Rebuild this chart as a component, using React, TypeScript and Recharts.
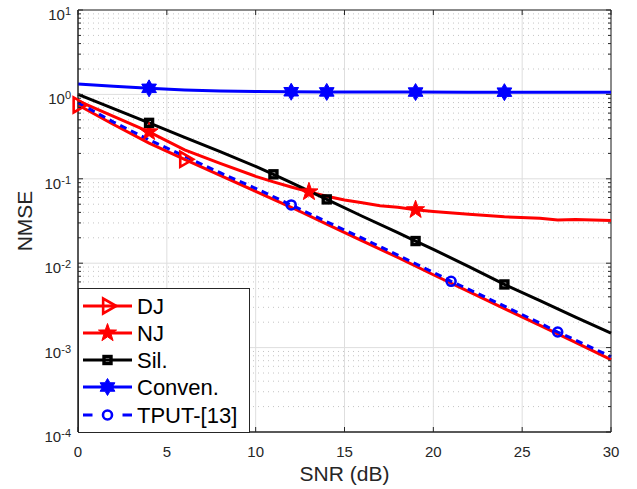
import React from "react";
import { LineChart, Line, XAxis, YAxis, CartesianGrid, ReferenceArea, Legend } from "recharts";

// plot box (MATLAB-style axes)
const CHART_W = 637;
const CHART_H = 489;
const PLOT_LEFT = 78;
const PLOT_RIGHT = 611;
const PLOT_TOP = 10;
const PLOT_BOTTOM = 432;

const FONT = "'Liberation Sans', Arial, Helvetica, sans-serif";
const AXIS = "#262626";
const RED = "#ff0000";
const BLUE = "#0000ff";
const BLACK = "#000000";

const snrTicks = [0, 5, 10, 15, 20, 25, 30];
const decadeTicks = [1e-4, 1e-3, 1e-2, 1e-1, 1, 10];
const minorTicks = decadeTicks.slice(0, -1).flatMap((d) => [2, 3, 4, 5, 6, 7, 8, 9].map((m) => m * d));

// DJ
const djSnr = [0, 2, 4, 6, 8, 10, 12, 14, 16, 18, 20, 22, 24, 26, 28, 30];
const djNmse = [0.75, 0.44, 0.265, 0.17, 0.11, 0.071, 0.046, 0.029, 0.0184, 0.0117, 0.0073, 0.0046, 0.0029, 0.00183, 0.00115, 0.00072];
const djMarks = [0, 6];

// NJ
const njSnr = [0, 2, 4, 6, 8, 10, 11, 12, 13, 14, 15, 16, 17, 18, 19, 20, 22, 24, 26, 27, 28, 30];
const njNmse = [0.84, 0.55, 0.36, 0.22, 0.152, 0.107, 0.092, 0.08, 0.07, 0.062, 0.056, 0.052, 0.048, 0.046, 0.043, 0.041, 0.038, 0.0355, 0.034, 0.0325, 0.033, 0.032];
const njMarks = [4, 13, 19];

// Sil.
const silSnr = [0, 2, 4, 6, 8, 10, 11, 12, 14, 16, 18, 19, 20, 22, 24, 26, 28, 30];
const silNmse = [1.0, 0.68, 0.46, 0.31, 0.21, 0.14, 0.113, 0.09, 0.057, 0.036, 0.023, 0.0183, 0.0146, 0.0091, 0.0056, 0.0036, 0.0023, 0.00148];
const silMarks = [4, 11, 14, 19, 24];

// Conven.
const convSnr = [0, 2, 4, 6, 8, 10, 12, 14, 16, 19, 22, 24, 27, 30];
const convNmse = [1.33, 1.25, 1.18, 1.13, 1.1, 1.085, 1.075, 1.07, 1.068, 1.066, 1.064, 1.063, 1.061, 1.06];
const convMarks = [4, 12, 14, 19, 24];

// TPUT-[13]
const tputSnr = [0, 2, 4, 6, 8, 10, 12, 14, 16, 18, 20, 21, 22, 24, 26, 27, 28, 30];
const tputNmse = [0.8, 0.47, 0.29, 0.185, 0.118, 0.077, 0.049, 0.031, 0.0198, 0.0125, 0.0078, 0.0061, 0.0049, 0.0031, 0.00195, 0.00153, 0.00123, 0.00078];
const tputMarks = [12, 21, 27];

const toRows = (snr: number[], nmse: number[]) => snr.map((s, i) => ({ snr: s, nmse: nmse[i] }));

const series = [
  { name: "DJ", rows: toRows(djSnr, djNmse), marks: djMarks, kind: "tri", color: RED, dash: undefined },
  { name: "NJ", rows: toRows(njSnr, njNmse), marks: njMarks, kind: "pent", color: RED, dash: undefined },
  { name: "Sil.", rows: toRows(silSnr, silNmse), marks: silMarks, kind: "square", color: BLACK, dash: undefined },
  { name: "Conven.", rows: toRows(convSnr, convNmse), marks: convMarks, kind: "hex", color: BLUE, dash: undefined },
  { name: "TPUT-[13]", rows: toRows(tputSnr, tputNmse), marks: tputMarks, kind: "circle", color: BLUE, dash: "7 5" },
];

function starPoints(cx: number, cy: number, outer: number, inner: number, n: number) {
  const pts: string[] = [];
  for (let i = 0; i < 2 * n; i++) {
    const r = i % 2 === 0 ? outer : inner;
    const a = -Math.PI / 2 + (i * Math.PI) / n;
    pts.push(`${cx + r * Math.cos(a)},${cy + r * Math.sin(a)}`);
  }
  return pts.join(" ");
}

function Marker({ kind, cx, cy }: { kind: string; cx: number; cy: number }) {
  switch (kind) {
    case "tri":
      return (
        <polygon
          points={`${cx + 8.7},${cy} ${cx - 4.35},${cy - 7.5} ${cx - 4.35},${cy + 7.5}`}
          fill="none"
          stroke={RED}
          strokeWidth={2.6}
        />
      );
    case "pent":
      return <polygon points={starPoints(cx, cy, 9.5, 3.8, 5)} fill={RED} stroke={RED} strokeWidth={1} />;
    case "square":
      return <rect x={cx - 3.5} y={cy - 3.5} width={7} height={7} fill="none" stroke={BLACK} strokeWidth={3.4} />;
    case "hex":
      return <polygon points={starPoints(cx, cy, 8.5, 4.9, 6)} fill={BLUE} stroke={BLUE} strokeWidth={1} />;
    case "circle":
      return <circle cx={cx} cy={cy} r={4.5} fill="none" stroke={BLUE} strokeWidth={2.6} />;
    default:
      return null;
  }
}

const makeDot = (kind: string, marks: number[]) => (props: any) => {
  const { cx, cy, payload, index } = props;
  if (cx == null || cy == null || !marks.includes(payload.snr)) return <g key={`${kind}-${index}`} />;
  return (
    <g key={`${kind}-${index}`}>
      <Marker kind={kind} cx={cx} cy={cy} />
    </g>
  );
};

const XTick = (props: any) => {
  const { x, payload } = props;
  return (
    <g>
      <line x1={x} x2={x} y1={PLOT_BOTTOM} y2={PLOT_BOTTOM - 5} stroke={AXIS} />
      <line x1={x} x2={x} y1={PLOT_TOP} y2={PLOT_TOP + 5} stroke={AXIS} />
      <text x={x} y={PLOT_BOTTOM + 25} textAnchor="middle" fontSize={15} fill={AXIS} fontFamily={FONT}>
        {payload.value}
      </text>
    </g>
  );
};

const YTick = (props: any) => {
  const { y, payload } = props;
  const lg = Math.log10(payload.value);
  const exp = Math.round(lg);
  const major = Math.abs(lg - exp) < 1e-6;
  const len = major ? 5 : 3;
  return (
    <g>
      <line x1={PLOT_LEFT} x2={PLOT_LEFT + len} y1={y} y2={y} stroke={AXIS} />
      <line x1={PLOT_RIGHT} x2={PLOT_RIGHT - len} y1={y} y2={y} stroke={AXIS} />
      {major && (
        <text x={71} y={y + 10} textAnchor="end" fontSize={15} fill={AXIS} fontFamily={FONT}>
          10
          <tspan dy={-5} fontSize={11}>
            {exp}
          </tspan>
        </text>
      )}
    </g>
  );
};

const LegendBox = () => {
  const rowY = [18, 45, 72, 99, 127];
  return (
    <svg width={173} height={146} style={{ display: "block" }}>
      <rect x={0.5} y={0.5} width={171} height={144} fill="#ffffff" stroke={AXIS} strokeWidth={1} />
      {series.map((s, i) => (
        <g key={s.name}>
          <line
            x1={5}
            x2={54}
            y1={rowY[i]}
            y2={rowY[i]}
            stroke={s.color}
            strokeWidth={3}
            strokeDasharray={s.dash ? "9.5 30" : undefined}
          />
          <Marker kind={s.kind} cx={29.5} cy={rowY[i]} />
          <text x={59} y={rowY[i] + 8} fontSize={22} fill="#000" fontFamily={FONT}>
            {s.name}
          </text>
        </g>
      ))}
    </svg>
  );
};

export default function App() {
  const yTicks = [...decadeTicks, ...minorTicks].sort((a, b) => a - b);
  return (
    <div style={{ position: "absolute", left: 0, top: 0, background: "#fff" }}>
      <LineChart
        width={CHART_W}
        height={CHART_H}
        margin={{ top: PLOT_TOP, right: CHART_W - PLOT_RIGHT, bottom: 0, left: 0 }}
      >
        <CartesianGrid horizontalValues={minorTicks} vertical={false} stroke="#c4c4c4" strokeDasharray="1 4" />
        <CartesianGrid horizontalValues={decadeTicks} verticalValues={snrTicks} stroke="#dedede" />
        <XAxis
          dataKey="snr"
          type="number"
          domain={[0, 30]}
          ticks={snrTicks}
          interval={0}
          height={CHART_H - PLOT_BOTTOM}
          axisLine={{ stroke: AXIS }}
          tickLine={false}
          tick={<XTick />}
          label={{
            content: () => (
              <text x={(PLOT_LEFT + PLOT_RIGHT) / 2} y={481} textAnchor="middle" fontSize={21} fill={AXIS} fontFamily={FONT}>
                SNR (dB)
              </text>
            ),
          }}
        />
        <YAxis
          type="number"
          scale="log"
          domain={[1e-4, 10]}
          ticks={yTicks}
          interval={0}
          width={PLOT_LEFT}
          axisLine={{ stroke: AXIS }}
          tickLine={false}
          tick={<YTick />}
          label={{
            content: () => (
              <text
                x={32}
                y={(PLOT_TOP + PLOT_BOTTOM) / 2}
                textAnchor="middle"
                fontSize={21}
                fill={AXIS}
                fontFamily={FONT}
                transform={`rotate(-90, 32, ${(PLOT_TOP + PLOT_BOTTOM) / 2})`}
              >
                NMSE
              </text>
            ),
          }}
        />
        <ReferenceArea x1={0} x2={30} y1={1e-4} y2={10} fill="none" stroke={AXIS} strokeWidth={1} />
        {series.map((s) => (
          <Line
            key={s.name}
            data={s.rows}
            dataKey="nmse"
            name={s.name}
            type="linear"
            stroke={s.color}
            strokeWidth={3}
            strokeDasharray={s.dash}
            dot={makeDot(s.kind, s.marks)}
            activeDot={false}
            isAnimationActive={false}
          />
        ))}
        <Legend
          layout="horizontal"
          verticalAlign="middle"
          align="center"
          wrapperStyle={{ left: PLOT_LEFT, top: 288, width: 173, height: 146 }}
          content={() => <LegendBox />}
        />
      </LineChart>
    </div>
  );
}
